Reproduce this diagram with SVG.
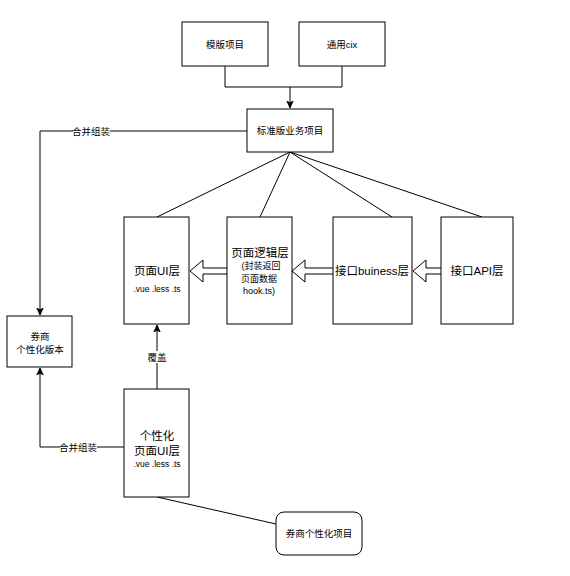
<svg xmlns="http://www.w3.org/2000/svg" width="570" height="576" viewBox="0 0 570 576">
<style>
.box{fill:#fff;stroke:#000;stroke-width:1}
.ln{fill:none;stroke:#000;stroke-width:1}
.blk{fill:#fff;stroke:#000;stroke-width:1}
text{font-family:"Liberation Sans","Noto Sans CJK SC",sans-serif;fill:#000;text-anchor:middle;dominant-baseline:central}
.t12{font-size:11.5px}
.t10{font-size:9.5px}
.t9{font-size:8.5px}
.s9{font-size:9px}
.lbl{font-size:9.5px}
</style>
<defs>
<marker id="ah" markerWidth="8" markerHeight="8" refX="7" refY="4" orient="auto" markerUnits="userSpaceOnUse">
<path d="M0,0.8 L7,4 L0,7.2 L1.8,4 Z" fill="#000" stroke="#000" stroke-width="0.8"/>
</marker>
</defs>
<rect x="0" y="0" width="570" height="576" fill="#fff"/>
<g id="connectors">
<path class="ln" d="M225,66 V87 H342 V66"/>
<path class="ln" d="M290,87 V108" marker-end="url(#ah)"/>
<path class="ln" d="M247,131 H40 V315" marker-end="url(#ah)"/>
<rect x="73" y="125" width="37" height="12" fill="#fff"/>
<text class="lbl" x="91" y="131">合并组装</text>
<path class="ln" d="M290,152 L157,217"/>
<path class="ln" d="M290,152 L260,217"/>
<path class="ln" d="M290,152 L392,217"/>
<path class="ln" d="M290,152 L482,217"/>
<path class="blk" d="M227,268 H203 V260 L190,271 L203,282 V274 H227"/>
<path class="blk" d="M333,268 H305 V260 L292,271 L305,282 V274 H333"/>
<path class="blk" d="M441,268 H426 V260 L413,271 L426,282 V274 H441"/>
<path class="ln" d="M157,389 V325" marker-end="url(#ah)"/>
<rect x="147" y="351" width="20" height="12" fill="#fff"/>
<text class="lbl" x="157" y="357">覆盖</text>
<path class="ln" d="M124,447 H40 V368" marker-end="url(#ah)"/>
<rect x="60" y="441" width="37" height="12" fill="#fff"/>
<text class="lbl" x="78" y="447">合并组装</text>
<path class="ln" d="M157,497 L276,524"/>
</g>
<g id="n-template">
<rect class="box" x="182" y="22" width="86" height="44"/>
<text class="t10" x="225" y="44">模版项目</text>
</g>
<g id="n-cix">
<rect class="box" x="299" y="22" width="86" height="44"/>
<text class="t10" x="342" y="44">通用cix</text>
</g>
<g id="n-standard">
<rect class="box" x="247" y="109" width="86" height="43"/>
<text class="t10" x="290" y="130">标准版业务项目</text>
</g>
<g id="n-pageui">
<rect class="box" x="124" y="217" width="65" height="107"/>
<text class="t12" x="157" y="271">页面UI层</text>
<text class="t9" x="157" y="289">.vue .less .ts</text>
</g>
<g id="n-logic">
<rect class="box" x="227" y="217" width="65" height="107"/>
<text class="t12" x="260" y="253">页面逻辑层</text>
<text class="s9" x="261" y="266">(封装返回</text>
<text class="s9" x="259" y="279">页面数据</text>
<text class="s9" x="259" y="291">hook.ts)</text>
</g>
<g id="n-buiness">
<rect class="box" x="333" y="217" width="79" height="107"/>
<text class="t12" x="372" y="271">接口buiness层</text>
</g>
<g id="n-api">
<rect class="box" x="441" y="217" width="72" height="107"/>
<text class="t12" x="477" y="271">接口API层</text>
</g>
<g id="n-broker">
<rect class="box" x="7" y="316" width="65" height="51"/>
<text class="t10" x="40" y="336">券商</text>
<text class="t10" x="40" y="349">个性化版本</text>
</g>
<g id="n-custom-ui">
<rect class="box" x="124" y="389" width="65" height="108"/>
<text class="t12" x="157" y="436">个性化</text>
<text class="t12" x="157" y="451">页面UI层</text>
<text class="t9" x="157" y="464">.vue .less .ts</text>
</g>
<g id="n-broker-project">
<rect class="box" x="276" y="512" width="86" height="43" rx="8" ry="8"/>
<text class="t10" x="319" y="533">券商个性化项目</text>
</g>
</svg>
